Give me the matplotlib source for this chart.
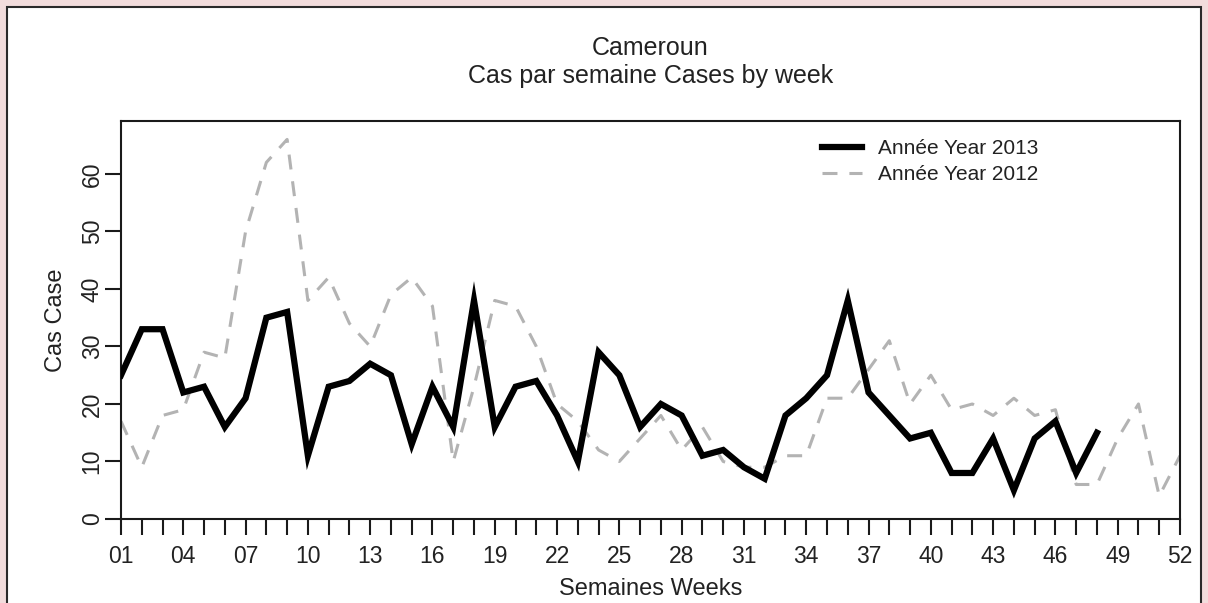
"""Weekly cases, Cameroun: 2013 vs 2012."""

import matplotlib
matplotlib.use('Agg')
import matplotlib.pyplot as plt
from matplotlib.patches import Rectangle

# ---- data ----
weeks_2013 = list(range(1, 49))
cases_2013 = [25, 33, 33, 22, 23, 16, 21, 35, 36, 11,
              23, 24, 27, 25, 13, 23, 16, 38, 16, 23,
              24, 18, 10, 29, 25, 16, 20, 18, 11, 12,
              9, 7, 18, 21, 25, 38, 22, 18, 14, 15,
              8, 8, 14, 5, 14, 17, 8, 15]

weeks_2012 = list(range(1, 53))
cases_2012 = [17, 9, 18, 19, 29, 28, 50, 62, 66, 38,
              42, 34, 30, 39, 42, 37, 10, 23, 38, 37,
              30, 20, 17, 12, 10, 14, 18, 12, 16, 10,
              9, 9, 11, 11, 21, 21, 26, 31, 20, 25,
              19, 20, 18, 21, 18, 19, 6, 6, 14, 20,
              4, 11]

label_weeks = list(range(1, 53, 3))
y_ticks = [0, 10, 20, 30, 40, 50, 60]

TEXT = '#222222'
plt.rcParams['font.family'] = ['Liberation Sans', 'DejaVu Sans']

fig = plt.figure(figsize=(12.08, 6.03), dpi=100, facecolor='#F2DCDC')
# white panel with dark frame (cut off at the bottom, as in the source)
W, H = 1208, 603
fig.patches.append(Rectangle((7 / W, -0.02), (1201 - 7) / W, (H - 7) / H + 0.02,
                             transform=fig.transFigure, facecolor='white',
                             edgecolor='#2a2a2a', linewidth=1.5, zorder=-5))

ax = fig.add_axes([121 / W, (H - 519) / H, (1180 - 121) / W, (519 - 121) / H])
ax.set_facecolor('white')

line12, = ax.plot(weeks_2012, cases_2012, color='#B3B3B3', linewidth=2.2,
                  dashes=(4.9, 3.9), zorder=2)
line13, = ax.plot(weeks_2013, cases_2013, color='black', linewidth=4.5,
                  solid_joinstyle='miter', zorder=3)

ax.set_xlim(1, 52)
ax.set_ylim(0, 69.2)

ax.set_xticks(label_weeks)
ax.set_xticklabels([f'{w:02d}' for w in label_weeks])
ax.set_xticks([w for w in weeks_2012 if w not in label_weeks], minor=True)
ax.set_yticks(y_ticks)

for s in ax.spines.values():
    s.set_linewidth(1.5)
    s.set_color('#1a1a1a')

ax.tick_params(axis='x', which='both', length=11.3, width=1.5, pad=7.5,
               labelsize=16.5, labelcolor=TEXT, color='#1a1a1a')
ax.tick_params(axis='y', length=11.5, width=1.5, pad=1, labelsize=16.5,
               labelcolor=TEXT, labelrotation=90, color='#1a1a1a')
for lab in ax.get_yticklabels():
    lab.set_va('center')

ax.set_xlabel('Semaines Weeks', fontsize=17, color=TEXT)
ax.xaxis.set_label_coords(0.5, -0.148)
ax.set_ylabel('Cas Case', fontsize=17, color=TEXT)
ax.yaxis.set_label_coords(-0.051, 0.5)

ax.set_title('Cameroun\nCas par semaine Cases by week', fontsize=18,
             color=TEXT, pad=27.5, linespacing=1.2)

ax.legend([line13, line12], ['Année Year 2013', 'Année Year 2012'],
          loc='upper left', bbox_to_anchor=(0.662, 0.955), frameon=False,
          fontsize=15, handlelength=1.92, handletextpad=0.75,
          labelspacing=0.35, borderpad=0, borderaxespad=0,
          labelcolor=TEXT)

fig.savefig('out.png', dpi=100, facecolor=fig.get_facecolor())
